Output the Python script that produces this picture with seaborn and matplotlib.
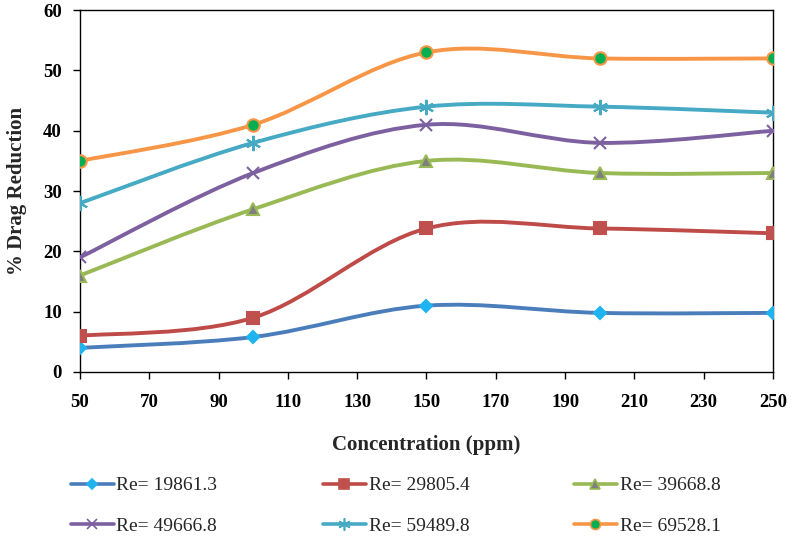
import numpy as np
import pandas as pd
import seaborn as sns
import matplotlib.pyplot as plt
from matplotlib.path import Path
from matplotlib.patches import PathPatch
from matplotlib.lines import Line2D

# dados
concentration = [50, 100, 150, 200, 250]
re_19861 = [4.0, 5.8, 11.0, 9.8, 9.8]
re_29805 = [6.0, 9.0, 23.8, 23.8, 23.0]
re_39668 = [16.0, 27.0, 35.0, 33.0, 33.0]
re_49666 = [19.0, 33.0, 41.0, 38.0, 40.0]
re_59489 = [28.0, 38.0, 44.0, 44.0, 43.0]
re_69528 = [35.0, 41.0, 53.0, 52.0, 52.0]

labels = ["Re= 19861.3", "Re= 29805.4", "Re= 39668.8",
          "Re= 49666.8", "Re= 59489.8", "Re= 69528.1"]
series = [re_19861, re_29805, re_39668, re_49666, re_59489, re_69528]

# estilo de cada série (linha, marcador, cor do marcador, borda)
styles = [
    dict(line="#4a7ebb", marker="D", mfc="#1fb4f0", mec="#1fb4f0", ms=6),
    dict(line="#be4b48", marker="s", mfc="#c0504d", mec="#c0504d", ms=9),
    dict(line="#98b954", marker="^", mfc="#7f7f7f", mec="#98b954", ms=9),
    dict(line="#7d60a0", marker="x", mfc="#7d60a0", mec="#7d60a0", ms=9),
    dict(line="#46aac5", marker=(6, 2, 0), mfc="#46aac5", mec="#46aac5", ms=11),
    dict(line="#f79646", marker="o", mfc="#00b050", mec="#f79646", ms=9),
]

sns.set_style("ticks")
plt.rcParams['font.family'] = ['Liberation Serif', 'DejaVu Serif']


def smooth_path(xs, ys):
    # curva suave tipo Excel (Bezier pelos pontos)
    pts = np.column_stack([xs, ys]).astype(float)
    n = len(pts)
    verts = [pts[0]]
    codes = [Path.MOVETO]
    for i in range(n - 1):
        p0 = pts[i - 1] if i > 0 else pts[i]
        p1 = pts[i]
        p2 = pts[i + 1]
        p3 = pts[i + 2] if i + 2 < n else pts[i + 1]
        c1 = p1 + (p2 - p0) / 6.0
        c2 = p2 - (p3 - p1) / 6.0
        verts += [c1, c2, p2]
        codes += [Path.CURVE4] * 3
    return Path(verts, codes)


fig = plt.figure(figsize=(7.92, 5.36), dpi=100)
ax = fig.add_axes([0.101, 0.306, 0.875, 0.675])

handles = []
for vals, lab, st in zip(series, labels, styles):
    df = pd.DataFrame({"x": concentration, "y": vals})
    patch = PathPatch(smooth_path(df.x, df.y), facecolor="none",
                      edgecolor=st["line"], lw=2.8, zorder=2)
    ax.add_patch(patch)
    sns.lineplot(data=df, x="x", y="y", ax=ax, lw=0, marker=st["marker"],
                 markersize=st["ms"], markerfacecolor=st["mfc"],
                 markeredgecolor=st["mec"], markeredgewidth=1.5, zorder=3)
    handles.append(Line2D([], [], color=st["line"], lw=2.6, marker=st["marker"],
                          markersize=st["ms"] * 0.8, markerfacecolor=st["mfc"],
                          markeredgecolor=st["mec"], markeredgewidth=1.2, label=lab))

ax.set_xlim(50, 250)
ax.set_ylim(0, 60)
ax.set_xticks(np.arange(50, 251, 20))
ax.set_yticks(np.arange(0, 61, 10))
for s in ax.spines.values():
    s.set_color("black")
    s.set_linewidth(1.0)
ax.tick_params(axis="both", direction="out", length=5, width=1, colors="black",
               labelsize=13.5)
ax.tick_params(axis="x", pad=11)
ax.tick_params(axis="y", pad=8)
for t in ax.get_xticklabels() + ax.get_yticklabels():
    t.set_fontweight("bold")

ax.set_xlabel("Concentration (ppm)", fontsize=15, fontweight="bold", labelpad=17)
ax.set_ylabel("% Drag Reduction", fontsize=15, fontweight="bold", labelpad=12)

# legenda em três colunas
col_x = [0.0795, 0.398, 0.715]
for c in range(3):
    leg = fig.legend(handles=[handles[c], handles[c + 3]], loc="upper left",
                     bbox_to_anchor=(col_x[c], 0.125), frameon=False,
                     fontsize=14, handlelength=2.2, handletextpad=0.15,
                     labelspacing=1.16, borderaxespad=0)

fig.savefig("out.png", dpi=100)
